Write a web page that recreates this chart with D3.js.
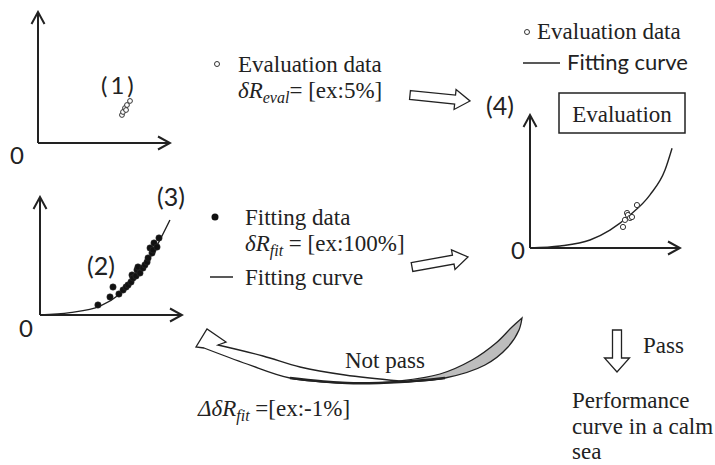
<!DOCTYPE html>
<html>
<head>
<meta charset="utf-8">
<script src="https://cdn.jsdelivr.net/npm/d3@7"></script>
<style>
  body { margin: 0; background: #fff; }
  .serif { font-family: "Liberation Serif", "Times New Roman", serif; fill: #222; }
  .sans { font-family: Lato, "Noto Sans", sans-serif; fill: #222; }
</style>
</head>
<body>
<svg id="chart" width="715" height="465"></svg>
<script>
// ---- data (unit axes, 0..1) ----
// (1) evaluation data
var evalX1 = [0.636, 0.644, 0.659, 0.667, 0.674, 0.697];
var evalY1 = [0.214, 0.237, 0.267, 0.252, 0.290, 0.321];

// (2) fitting data
var fitX = [0.408, 0.493, 0.514, 0.556, 0.585, 0.606, 0.620, 0.641, 0.648, 0.655, 0.676, 0.683,
            0.690, 0.704, 0.725, 0.739, 0.754, 0.761, 0.775, 0.789, 0.796, 0.803, 0.824, 0.838];
var fitY = [0.085, 0.153, 0.237, 0.178, 0.212, 0.237, 0.254, 0.280, 0.339, 0.314, 0.331, 0.381,
            0.407, 0.356, 0.398, 0.424, 0.449, 0.483, 0.568, 0.525, 0.551, 0.610, 0.576, 0.653];

// (3) fitting curve (2)
var curveX2 = [0, 0.211, 0.423, 0.563, 0.704, 0.824, 0.915];
var curveY2 = [0, 0.02, 0.075, 0.178, 0.356, 0.59, 0.805];

// (4) evaluation data against the curve
var evalX4 = [0.62, 0.633, 0.647, 0.653, 0.667, 0.68, 0.713];
var evalY4 = [0.158, 0.211, 0.263, 0.248, 0.226, 0.233, 0.323];
var curveX4 = [0, 0.2, 0.4, 0.533, 0.667, 0.8, 0.9, 0.947];
var curveY4 = [0, 0.015, 0.06, 0.135, 0.248, 0.4, 0.586, 0.75];

var svg = d3.select("#chart");
svg.append("rect").attr("width", 715).attr("height", 465).attr("fill", "#fff");

var defs = svg.append("defs");
defs.append("marker")
    .attr("id", "tip")
    .attr("markerUnits", "userSpaceOnUse")
    .attr("viewBox", "-14 -8 16 16")
    .attr("refX", 0).attr("refY", 0)
    .attr("markerWidth", 16).attr("markerHeight", 16)
    .attr("orient", "auto")
    .append("path")
    .attr("d", "M-12,-6.5L0,0L-12,6.5")
    .attr("fill", "none")
    .attr("stroke", "#222")
    .attr("stroke-width", 2);

function panel(ox, oy, xEnd, yTop) {
    var x = d3.scaleLinear().domain([0, 1]).range([ox, xEnd]);
    var y = d3.scaleLinear().domain([0, 1]).range([oy, yTop]);
    var g = svg.append("g");
    g.append("line")
        .attr("x1", x(0)).attr("y1", y(0)).attr("x2", x(1)).attr("y2", y(0))
        .attr("stroke", "#222").attr("stroke-width", 2).attr("marker-end", "url(#tip)");
    g.append("line")
        .attr("x1", x(0)).attr("y1", y(0)).attr("x2", x(0)).attr("y2", y(1))
        .attr("stroke", "#222").attr("stroke-width", 2).attr("marker-end", "url(#tip)");
    return {g: g, x: x, y: y};
}

function drawCurve(p, xs, ys) {
    var line = d3.line()
        .x(function(d) { return p.x(d[0]); })
        .y(function(d) { return p.y(d[1]); })
        .curve(d3.curveMonotoneX);
    p.g.append("path")
        .attr("d", line(d3.zip(xs, ys)))
        .attr("fill", "none")
        .attr("stroke", "#222")
        .attr("stroke-width", 1.4);
}

function drawPoints(p, xs, ys, r, filled) {
    p.g.selectAll(null)
        .data(d3.zip(xs, ys))
        .enter().append("circle")
        .attr("cx", function(d) { return p.x(d[0]); })
        .attr("cy", function(d) { return p.y(d[1]); })
        .attr("r", r)
        .attr("fill", filled ? "#111" : "#fff")
        .attr("stroke", "#333")
        .attr("stroke-width", filled ? 0.5 : 1);
}

function sans(txt, x, y, size) {
    return svg.append("text").attr("class", "sans")
        .attr("x", x).attr("y", y).attr("font-size", size).text(txt);
}
function serif(txt, x, y, size) {
    return svg.append("text").attr("class", "serif")
        .attr("x", x).attr("y", y).attr("font-size", size).text(txt);
}

// panel (1)
var p1 = panel(38, 143, 170, 12);
drawPoints(p1, evalX1, evalY1, 2.4, false);
sans("0", 10, 164, 24);
sans("(1)", 101, 94, 24).attr("letter-spacing", 3);

// panel (2)/(3)
var p2 = panel(40, 315, 182, 197);
drawCurve(p2, curveX2, curveY2);
drawPoints(p2, fitX, fitY, 3.2, true);
sans("0", 19, 337, 24);
sans("(2)", 87, 275, 25);
sans("(3)", 157, 206, 25);

// panel (4)
var p4 = panel(530, 248, 680, 115);
drawCurve(p4, curveX4, curveY4);
drawPoints(p4, evalX4, evalY4, 2.6, false);
sans("0", 511, 259, 24);
sans("(4)", 486, 115, 25);

svg.append("rect").attr("x", 559).attr("y", 93).attr("width", 126).attr("height", 40)
    .attr("fill", "none").attr("stroke", "#222").attr("stroke-width", 1.5);
serif("Evaluation", 622, 122, 23).attr("text-anchor", "middle");

// top-right legend
svg.append("circle").attr("cx", 527).attr("cy", 32).attr("r", 2.5)
    .attr("fill", "#fff").attr("stroke", "#333").attr("stroke-width", 1);
serif("Evaluation data", 537, 39, 23);
svg.append("line").attr("x1", 523).attr("x2", 560).attr("y1", 63).attr("y2", 63)
    .attr("stroke", "#222").attr("stroke-width", 1.5);
sans("Fitting curve", 567, 70, 22);

// middle legend: evaluation
svg.append("circle").attr("cx", 217).attr("cy", 64).attr("r", 2.5)
    .attr("fill", "#fff").attr("stroke", "#333").attr("stroke-width", 1);
serif("Evaluation data", 238, 72, 23);
var t1 = serif("", 238, 98, 23);
t1.append("tspan").attr("font-style", "italic").text("\u03b4R");
t1.append("tspan").attr("font-style", "italic").attr("font-size", 16).attr("dy", 5).text("eval");
t1.append("tspan").attr("dy", -5).text("= [ex:5%]");

// middle legend: fitting
svg.append("circle").attr("cx", 215).attr("cy", 217).attr("r", 3.5).attr("fill", "#111");
serif("Fitting data", 245, 225, 23);
var t2 = serif("", 245, 251, 23);
t2.append("tspan").attr("font-style", "italic").text("\u03b4R");
t2.append("tspan").attr("font-style", "italic").attr("font-size", 16).attr("dy", 5).text("fit");
t2.append("tspan").attr("dy", -5).text(" = [ex:100%]");
svg.append("line").attr("x1", 210).attr("x2", 233).attr("y1", 277).attr("y2", 277)
    .attr("stroke", "#222").attr("stroke-width", 1.5);
serif("Fitting curve", 245, 285, 23);

// hollow block arrows
function blockArrow(x0, y0, x1, y1, sw, hw, hl) {
    var dx = x1 - x0, dy = y1 - y0, len = Math.hypot(dx, dy);
    var ux = dx / len, uy = dy / len, nx = -uy, ny = ux;
    function pt(a, b) { return [x0 + ux * a + nx * b, y0 + uy * a + ny * b]; }
    var pts = [pt(0, -sw), pt(len - hl, -sw), pt(len - hl, -hw), pt(len, 0),
               pt(len - hl, hw), pt(len - hl, sw), pt(0, sw)];
    svg.append("path").attr("d", "M" + pts.join("L") + "Z")
        .attr("fill", "#fff").attr("stroke", "#222").attr("stroke-width", 1.3);
}
blockArrow(410, 95, 470, 101, 4.5, 10, 15);
blockArrow(412, 267, 468, 257, 4.5, 10, 15);
// pass arrow (down)
blockArrow(617, 330, 617, 372, 4.5, 12.5, 14);
serif("Pass", 643, 353, 23);

// curved "not pass" arrow (twisted ribbon)
var smooth = d3.line().curve(d3.curveCatmullRom);
var whiteLow = [[400, 382], [347, 383], [290, 378], [247, 364], [204, 348]];
var whiteUp = [[218, 345], [263, 356], [300, 367], [345, 375], [400, 381]];
var head = [[204, 348], [196, 347], [207, 329], [226, 342], [218, 345]];
svg.append("path")
    .attr("d", smooth(whiteLow) + "L" + head.slice(1).join("L") + "L" + smooth(whiteUp).slice(1) + "Z")
    .attr("fill", "#fff").attr("stroke", "#222").attr("stroke-width", 1.3).attr("stroke-linejoin", "miter");
var grayOut = [[400, 382], [445, 378], [485, 365], [508, 347], [519, 330], [522, 318]];
var grayIn = [[522, 318], [512, 327], [496, 343], [472, 360], [440, 374], [400, 381]];
svg.append("path")
    .attr("d", smooth(grayOut) + "L" + smooth(grayIn).slice(1) + "Z")
    .attr("fill", "#bdbdbd").attr("stroke", "#222").attr("stroke-width", 1.3);
svg.append("path")
    .attr("d", smooth([[290, 378], [347, 383], [400, 382], [445, 378]]))
    .attr("fill", "none").attr("stroke", "#222").attr("stroke-width", 2.4);

serif("Not pass", 345, 368, 23);
var t3 = serif("", 198, 416, 23);
t3.append("tspan").attr("font-style", "italic").text("\u0394\u03b4R");
t3.append("tspan").attr("font-style", "italic").attr("font-size", 16).attr("dy", 5).text("fit");
t3.append("tspan").attr("dy", -5).text(" =[ex:-1%]");

serif("Performance", 572, 408, 23);
serif("curve in a calm", 572, 434, 23);
serif("sea", 572, 459, 23);
</script>
</body>
</html>
